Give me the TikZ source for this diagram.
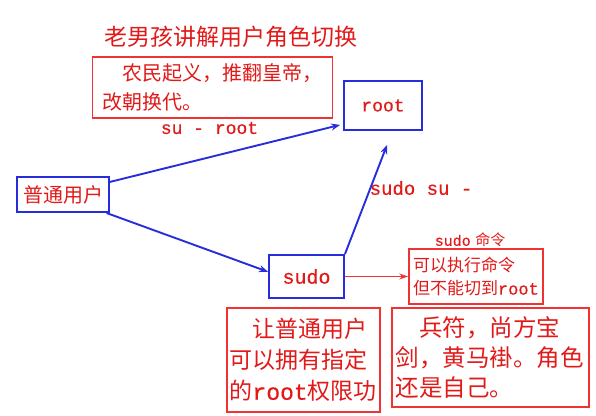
\documentclass[tikz,border=0pt]{standalone}
\usepackage{fontspec}
\usetikzlibrary{arrows.meta}
\newfontfamily\cjk{Noto Sans CJK SC}
\newfontfamily\lat[FakeBold=0.6]{Liberation Mono}
\definecolor{lineBlue}{RGB}{40,45,220}
\definecolor{boxRed}{RGB}{240,50,50}
\definecolor{inkRed}{RGB}{225,25,25}
\newcommand{\fs}[2]{\fontsize{#1}{#2}\selectfont}

\begin{document}
\begin{tikzpicture}[x=1pt,y=-1pt,
  bluebox/.style={draw=lineBlue,line width=2pt,text=inkRed,inner sep=0pt},
  redbox/.style={draw=boxRed,line width=1.8pt,text=inkRed,align=left,inner ysep=0pt},
  tag/.style={text=inkRed,inner sep=0pt},
  blueline/.style={draw=lineBlue,line width=1.9pt,-{Stealth[length=9pt,width=7pt]}},
  redline/.style={draw=boxRed,line width=1.5pt,-{Stealth[length=9pt,width=6pt]}}]
  \useasboundingbox (0,0) rectangle (596,415);
  \node[tag,font=\cjk\fs{23}{23}] (title) at (231,37) {老男孩讲解用户角色切换};
  \node[redbox,font=\cjk\fs{20}{29},text width=220pt,inner xsep=10pt,minimum width=231pt,minimum height=61pt] (revolt) at (212.5,87.5)
    {\hspace*{1em}农民起义，推翻皇帝，\\改朝换代。};
  % users and commands
  \node[bluebox,font=\lat\fs{18}{18},minimum width=78pt,minimum height=49pt] (root) at (383,105.5) {root};
  \node[bluebox,font=\cjk\fs{20}{20},minimum width=92pt,minimum height=35pt] (user) at (63,194.5) {普通用户};
  \node[bluebox,font=\lat\fs{20}{20},minimum width=75pt,minimum height=43pt] (sudo) at (306.5,276.5) {sudo};
  \coordinate (sutop) at (387,145);
  \node[tag,font=\lat\fs{18}{18}] (suroot) at (209.5,128) {su - root};
  \node[tag,font=\lat\fs{19}{19}] (sudosu) at (421,188) {sudo su -};
  \node[tag,font=\fs{15}{15}] (cmdtag) at (470,240) {{\lat sudo} {\cjk 命令}};
  \node[redbox,font=\cjk\fs{17}{23},text width=126pt,inner xsep=4pt,minimum width=134pt,minimum height=55pt] (cmdbox) at (476,276.5)
    {可以执行命令\\但不能切到{\lat root}};
  \node[redbox,font=\cjk\fs{23}{31},text width=148pt,inner xsep=2.5pt,minimum width=153pt,minimum height=104pt] (grant) at (303.5,360)
    {\hspace*{1em}让普通用户\\可以拥有指定\\的{\lat root}权限功};
  \node[redbox,font=\cjk\fs{23.5}{30},text width=190pt,inner xsep=3.5pt,minimum width=197pt,minimum height=99pt] (token) at (490.5,357.5)
    {\hspace*{1em}兵符，尚方宝\\剑，黄马褂。角色\\还是自己。};
  % arrows
  \draw[blueline,shorten >=3pt] (user.15) -- (root.205);
  \draw[blueline] (user.-23) -- (sudo.173);
  \draw[blueline] (sudo.north east) -- (sutop);
  \draw[redline] (sudo.east) -- (cmdbox.west);
\end{tikzpicture}
\end{document}
